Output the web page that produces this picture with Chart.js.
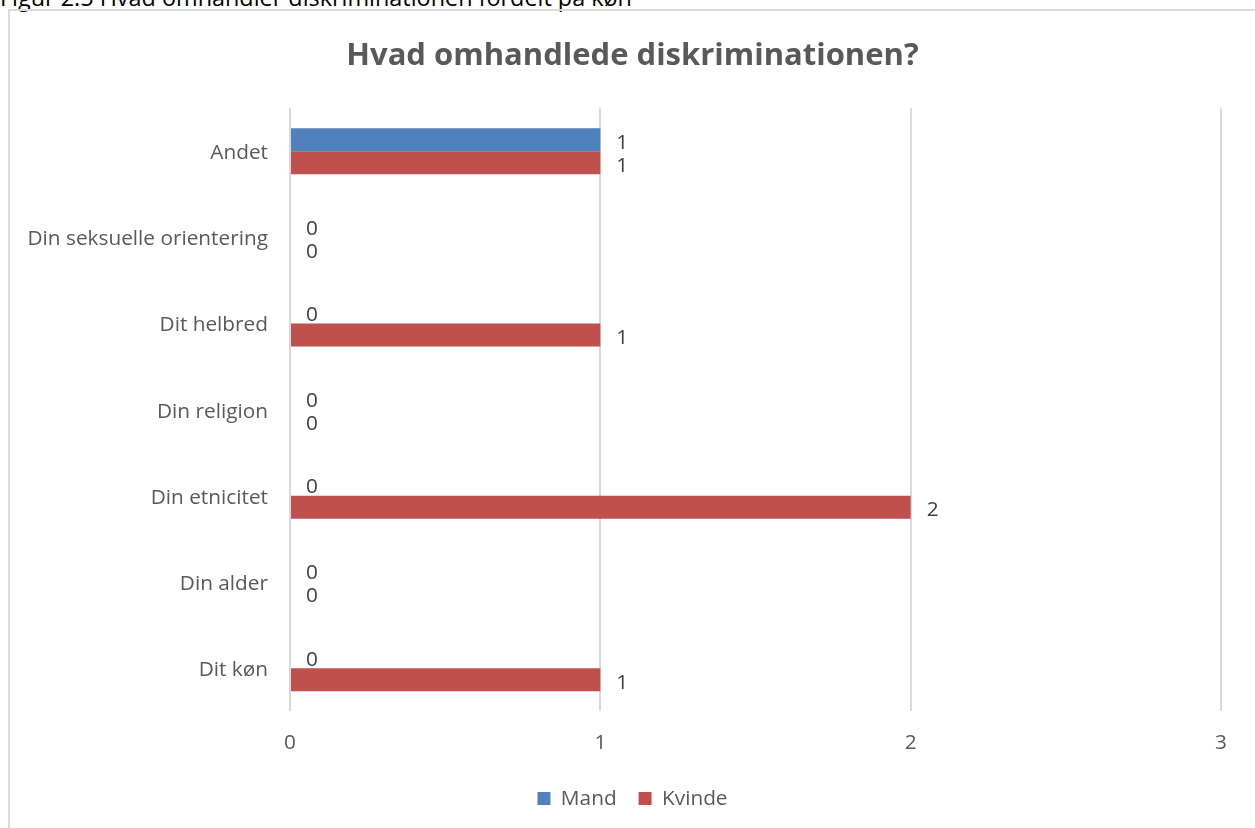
<!DOCTYPE html>
<html>
<head>
<meta charset="utf-8">
<script src="https://cdn.jsdelivr.net/npm/chart.js@4"></script>
<style>
  html, body { margin: 0; padding: 0; background: #fff; overflow: hidden; width: 1255px; height: 828px; }
  #caption { position: absolute; left: 0; top: -19px; font-family: "Open Sans", sans-serif; font-size: 23.4px; color: #000; white-space: nowrap; }
  #frame { position: absolute; left: 8px; top: 9px; width: 1300px; height: 900px; border: 2px solid #d9d9d9; box-sizing: border-box; }
  #wrap { position: absolute; left: 10px; top: 11px; width: 1245px; height: 817px; }
</style>
</head>
<body>
<div id="caption">Figur 2.5 Hvad omhandler diskriminationen fordelt på køn</div>
<div id="frame"></div>
<div id="wrap"><canvas id="c"></canvas></div>
<script>
const categories = ["Andet", "Din seksuelle orientering", "Dit helbred", "Din religion", "Din etnicitet", "Din alder", "Dit køn"];
const mandValues = [1, 0, 0, 0, 0, 0, 0];
const kvindeValues = [1, 0, 1, 0, 2, 0, 1];
const seriesNames = ["Mand", "Kvinde"];
const xTicks = [0, 1, 2, 3];
const titleText = "Hvad omhandlede diskriminationen?";

const FONT = "'Open Sans', sans-serif";
const FS = 20.8;

const valueLabels = {
  id: 'valueLabels',
  afterDatasetsDraw(chart) {
    const ctx = chart.ctx;
    ctx.save();
    ctx.font = FS + "px " + FONT;
    ctx.fillStyle = "#404040";
    ctx.textAlign = "left";
    ctx.textBaseline = "middle";
    chart.data.datasets.forEach((ds, di) => {
      const meta = chart.getDatasetMeta(di);
      meta.data.forEach((el, i) => {
        ctx.fillText(String(ds.data[i]), el.x + 16, el.y + 3);
      });
    });
    ctx.restore();
  }
};

new Chart(document.getElementById('c'), {
  type: 'bar',
  data: {
    labels: categories,
    datasets: [
      { label: seriesNames[0], data: mandValues, backgroundColor: "#4f81bd", borderWidth: 0 },
      { label: seriesNames[1], data: kvindeValues, backgroundColor: "#c0504d", borderWidth: 0 }
    ]
  },
  options: {
    indexAxis: 'y',
    responsive: true,
    maintainAspectRatio: false,
    animation: false,
    devicePixelRatio: 1,
    categoryPercentage: 0.534,
    barPercentage: 1.0,
    layout: { padding: { left: 0, right: 0, top: 0, bottom: 9 } },
    plugins: {
      title: {
        display: true,
        text: titleText,
        color: "#595959",
        font: { family: FONT, size: 31, weight: 'bold' },
        padding: { top: 27, bottom: 33 }
      },
      legend: {
        position: 'bottom',
        labels: {
          color: "#595959",
          font: { family: FONT, size: FS },
          boxWidth: 13,
          boxHeight: 13,
          padding: 22
        }
      },
      tooltip: { enabled: false }
    },
    scales: {
      x: {
        type: 'linear',
        min: xTicks[0],
        max: xTicks[xTicks.length - 1],
        afterBuildTicks(scale) { scale.ticks = xTicks.map(v => ({ value: v })); },
        ticks: { color: "#595959", font: { family: FONT, size: FS }, padding: 19 },
        grid: { color: "#d9d9d9", lineWidth: 2, drawTicks: false },
        border: { display: false },
        afterFit(scale) { scale.height = 55; }
      },
      y: {
        ticks: { color: "#595959", font: { family: FONT, size: FS }, padding: 22, labelOffset: 2 },
        grid: { display: false, drawTicks: false },
        border: { display: false },
        afterFit(scale) { scale.width = 280; }
      },
      yRight: {
        axis: 'y',
        type: 'linear',
        position: 'right',
        display: true,
        ticks: { display: false },
        grid: { display: false, drawTicks: false },
        border: { display: false },
        afterFit(scale) { scale.width = 34; }
      }
    }
  },
  plugins: [valueLabels]
});
</script>
</body>
</html>
